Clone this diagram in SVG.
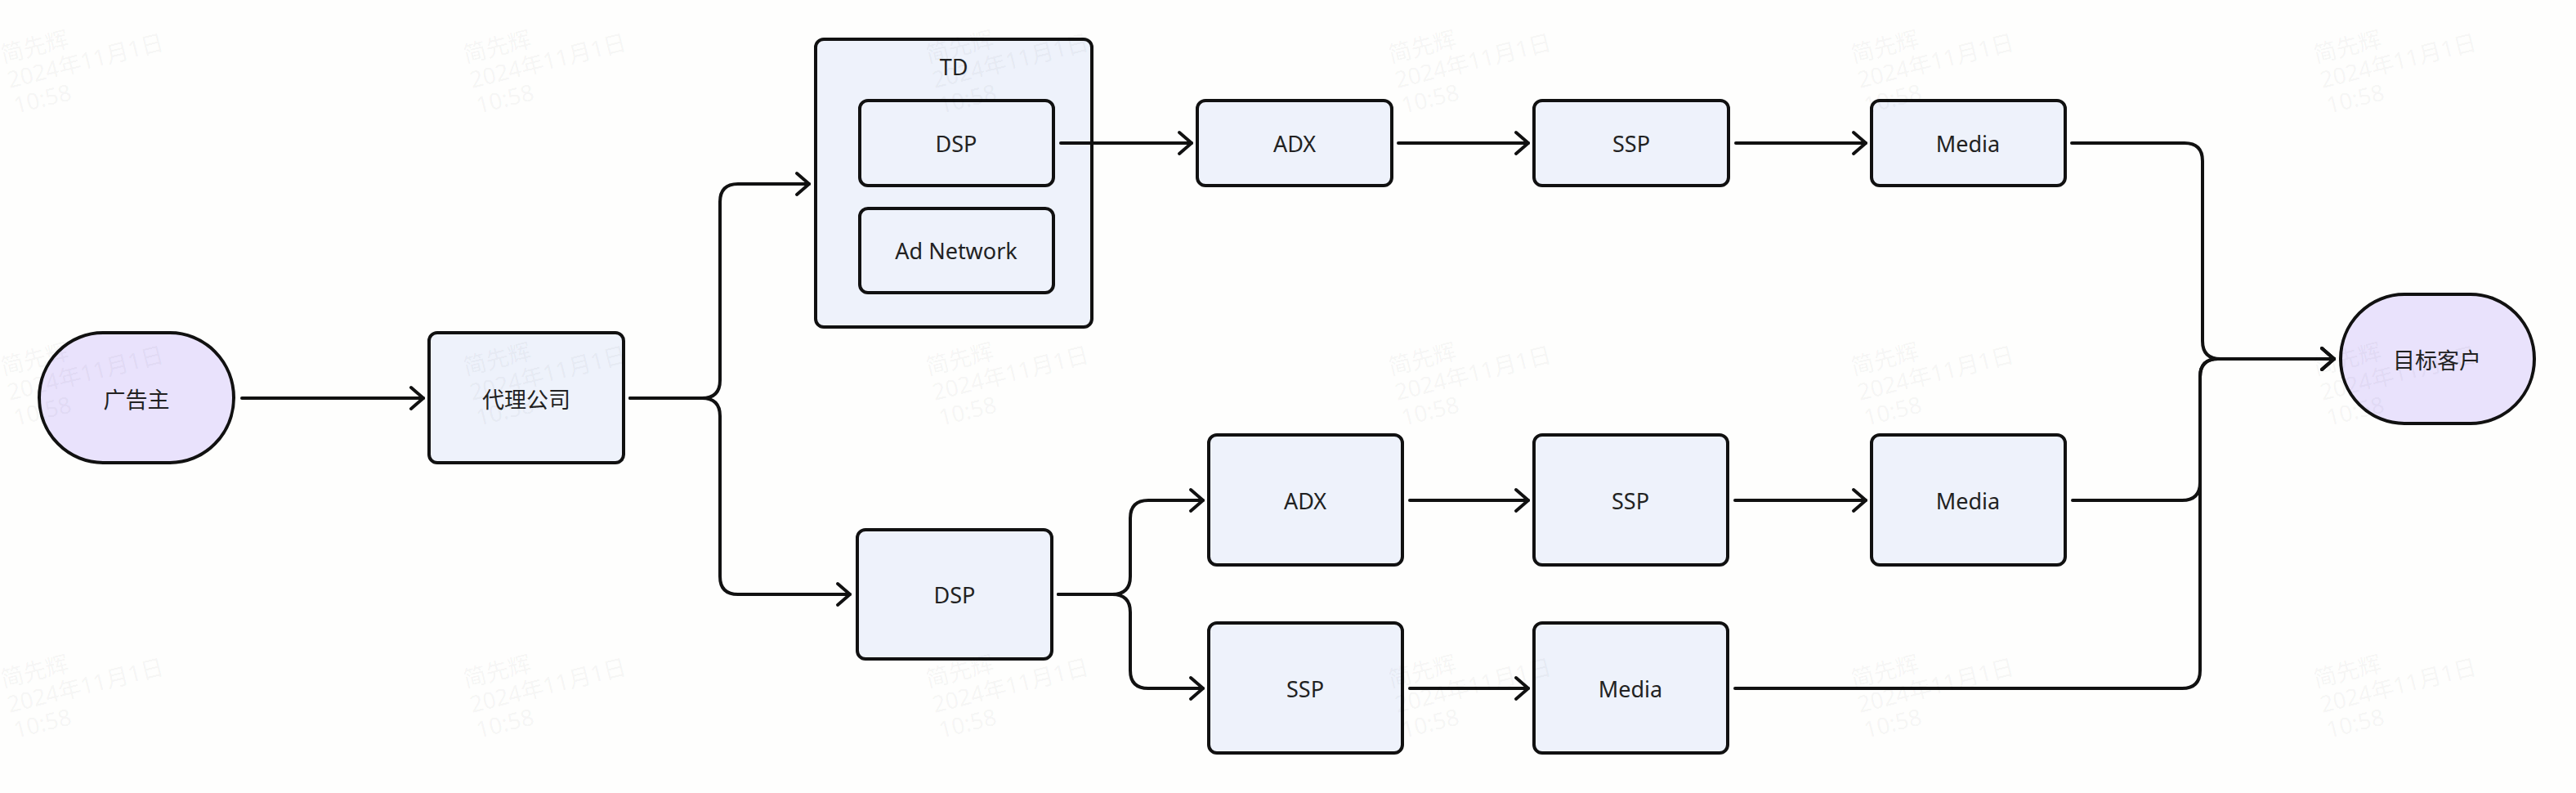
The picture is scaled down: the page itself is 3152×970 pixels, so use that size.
<svg xmlns="http://www.w3.org/2000/svg" width="3152" height="970" viewBox="0 0 3152 970">
<style>
.bg{fill:#fefefd}
.box{fill:#eef2fb;stroke:#111;stroke-width:4}
.term{fill:#e9e2fc;stroke:#111;stroke-width:4}
.lbl{font-family:"Noto Sans","Noto Sans CJK SC",sans-serif;font-size:27px;fill:#222;text-anchor:middle}
.edge{fill:none;stroke:#111;stroke-width:4;stroke-linejoin:round;stroke-linecap:round}
.wm{font-family:"Noto Sans","Noto Sans CJK SC",sans-serif;font-size:28px;fill:#000;fill-opacity:0.05}
</style>
<defs>
<marker id="arr" viewBox="-20 -17 24 34" refX="0" refY="0" markerWidth="24" markerHeight="34" markerUnits="userSpaceOnUse" orient="auto">
<path d="M-15,-13 L0,0 L-15,13" fill="none" stroke="#111" stroke-width="4" stroke-linecap="round" stroke-linejoin="round"/>
</marker>
</defs>
<rect class="bg" x="0" y="0" width="3152" height="970"/>

<g id="n-advertiser">
<rect class="term" x="48" y="407" width="238" height="159" rx="78" ry="79.5"/>
<text class="lbl" x="167" y="499">广告主</text>
</g>
<g id="n-agency">
<rect class="box" x="525" y="407" width="238" height="159" rx="10"/>
<text class="lbl" x="644" y="499">代理公司</text>
</g>
<g id="n-td">
<rect class="box" x="998" y="48" width="338" height="352" rx="10"/>
<text class="lbl" x="1167" y="92">TD</text>
</g>
<g id="n-td-dsp">
<rect class="box" x="1052" y="123" width="237" height="104" rx="10"/>
<text class="lbl" x="1170" y="186">DSP</text>
</g>
<g id="n-td-adnetwork">
<rect class="box" x="1052" y="255" width="237" height="103" rx="10"/>
<text class="lbl" x="1170" y="317">Ad Network</text>
</g>
<g id="n-adx1">
<rect class="box" x="1465" y="123" width="238" height="104" rx="10"/>
<text class="lbl" x="1584" y="186">ADX</text>
</g>
<g id="n-ssp1">
<rect class="box" x="1877" y="123" width="238" height="104" rx="10"/>
<text class="lbl" x="1996" y="186">SSP</text>
</g>
<g id="n-media1">
<rect class="box" x="2290" y="123" width="237" height="104" rx="10"/>
<text class="lbl" x="2408" y="186">Media</text>
</g>
<g id="n-dsp2">
<rect class="box" x="1049" y="648" width="238" height="158" rx="10"/>
<text class="lbl" x="1168" y="738">DSP</text>
</g>
<g id="n-adx2">
<rect class="box" x="1479" y="532" width="237" height="159" rx="10"/>
<text class="lbl" x="1597" y="623">ADX</text>
</g>
<g id="n-ssp2">
<rect class="box" x="1877" y="532" width="237" height="159" rx="10"/>
<text class="lbl" x="1995" y="623">SSP</text>
</g>
<g id="n-media2">
<rect class="box" x="2290" y="532" width="237" height="159" rx="10"/>
<text class="lbl" x="2408" y="623">Media</text>
</g>
<g id="n-ssp3">
<rect class="box" x="1479" y="762" width="237" height="159" rx="10"/>
<text class="lbl" x="1597" y="853">SSP</text>
</g>
<g id="n-media3">
<rect class="box" x="1877" y="762" width="237" height="159" rx="10"/>
<text class="lbl" x="1995" y="853">Media</text>
</g>
<g id="n-target">
<rect class="term" x="2864" y="360" width="237" height="158" rx="78" ry="79"/>
<text class="lbl" x="2982" y="451">目标客户</text>
</g>

<g id="connectors">
<path class="edge" d="M296,487 H518" marker-end="url(#arr)"/>
<path class="edge" d="M771,487 H859 Q881,487 881,465 V247 Q881,225 903,225 H990" marker-end="url(#arr)"/>
<path class="edge" d="M771,487 H859 Q881,487 881,509 V705 Q881,727 903,727 H1040" marker-end="url(#arr)"/>
<path class="edge" d="M1298,175 H1458" marker-end="url(#arr)"/>
<path class="edge" d="M1711,175 H1870" marker-end="url(#arr)"/>
<path class="edge" d="M2124,175 H2283" marker-end="url(#arr)"/>
<path class="edge" d="M1295,727 H1361 Q1383,727 1383,705 V634 Q1383,612 1405,612 H1472" marker-end="url(#arr)"/>
<path class="edge" d="M1295,727 H1361 Q1383,727 1383,749 V820 Q1383,842 1405,842 H1472" marker-end="url(#arr)"/>
<path class="edge" d="M1725,612 H1870" marker-end="url(#arr)"/>
<path class="edge" d="M2123,612 H2283" marker-end="url(#arr)"/>
<path class="edge" d="M1725,842 H1870" marker-end="url(#arr)"/>
<path class="edge" d="M2535,175 H2673 Q2695,175 2695,197 V417 Q2695,439 2717,439 H2856" marker-end="url(#arr)"/>
<path class="edge" d="M2536,612 H2670 Q2692,612 2692,590 V461 Q2692,439 2714,439 H2856" marker-end="url(#arr)"/>
<path class="edge" d="M2123,842 H2670 Q2692,842 2692,820 V461 Q2692,439 2714,439 H2856" marker-end="url(#arr)"/>
</g>

<g id="watermarks">
<text class="wm" transform="translate(4,77) rotate(-14)"><tspan x="0" y="0">简先辉</tspan><tspan x="0" y="32">2024年11月1日</tspan><tspan x="0" y="64">10:58</tspan></text>
<text class="wm" transform="translate(570,77) rotate(-14)"><tspan x="0" y="0">简先辉</tspan><tspan x="0" y="32">2024年11月1日</tspan><tspan x="0" y="64">10:58</tspan></text>
<text class="wm" transform="translate(1136,77) rotate(-14)"><tspan x="0" y="0">简先辉</tspan><tspan x="0" y="32">2024年11月1日</tspan><tspan x="0" y="64">10:58</tspan></text>
<text class="wm" transform="translate(1702,77) rotate(-14)"><tspan x="0" y="0">简先辉</tspan><tspan x="0" y="32">2024年11月1日</tspan><tspan x="0" y="64">10:58</tspan></text>
<text class="wm" transform="translate(2268,77) rotate(-14)"><tspan x="0" y="0">简先辉</tspan><tspan x="0" y="32">2024年11月1日</tspan><tspan x="0" y="64">10:58</tspan></text>
<text class="wm" transform="translate(2834,77) rotate(-14)"><tspan x="0" y="0">简先辉</tspan><tspan x="0" y="32">2024年11月1日</tspan><tspan x="0" y="64">10:58</tspan></text>
<text class="wm" transform="translate(4,459) rotate(-14)"><tspan x="0" y="0">简先辉</tspan><tspan x="0" y="32">2024年11月1日</tspan><tspan x="0" y="64">10:58</tspan></text>
<text class="wm" transform="translate(570,459) rotate(-14)"><tspan x="0" y="0">简先辉</tspan><tspan x="0" y="32">2024年11月1日</tspan><tspan x="0" y="64">10:58</tspan></text>
<text class="wm" transform="translate(1136,459) rotate(-14)"><tspan x="0" y="0">简先辉</tspan><tspan x="0" y="32">2024年11月1日</tspan><tspan x="0" y="64">10:58</tspan></text>
<text class="wm" transform="translate(1702,459) rotate(-14)"><tspan x="0" y="0">简先辉</tspan><tspan x="0" y="32">2024年11月1日</tspan><tspan x="0" y="64">10:58</tspan></text>
<text class="wm" transform="translate(2268,459) rotate(-14)"><tspan x="0" y="0">简先辉</tspan><tspan x="0" y="32">2024年11月1日</tspan><tspan x="0" y="64">10:58</tspan></text>
<text class="wm" transform="translate(2834,459) rotate(-14)"><tspan x="0" y="0">简先辉</tspan><tspan x="0" y="32">2024年11月1日</tspan><tspan x="0" y="64">10:58</tspan></text>
<text class="wm" transform="translate(4,841) rotate(-14)"><tspan x="0" y="0">简先辉</tspan><tspan x="0" y="32">2024年11月1日</tspan><tspan x="0" y="64">10:58</tspan></text>
<text class="wm" transform="translate(570,841) rotate(-14)"><tspan x="0" y="0">简先辉</tspan><tspan x="0" y="32">2024年11月1日</tspan><tspan x="0" y="64">10:58</tspan></text>
<text class="wm" transform="translate(1136,841) rotate(-14)"><tspan x="0" y="0">简先辉</tspan><tspan x="0" y="32">2024年11月1日</tspan><tspan x="0" y="64">10:58</tspan></text>
<text class="wm" transform="translate(1702,841) rotate(-14)"><tspan x="0" y="0">简先辉</tspan><tspan x="0" y="32">2024年11月1日</tspan><tspan x="0" y="64">10:58</tspan></text>
<text class="wm" transform="translate(2268,841) rotate(-14)"><tspan x="0" y="0">简先辉</tspan><tspan x="0" y="32">2024年11月1日</tspan><tspan x="0" y="64">10:58</tspan></text>
<text class="wm" transform="translate(2834,841) rotate(-14)"><tspan x="0" y="0">简先辉</tspan><tspan x="0" y="32">2024年11月1日</tspan><tspan x="0" y="64">10:58</tspan></text>
</g>
</svg>
